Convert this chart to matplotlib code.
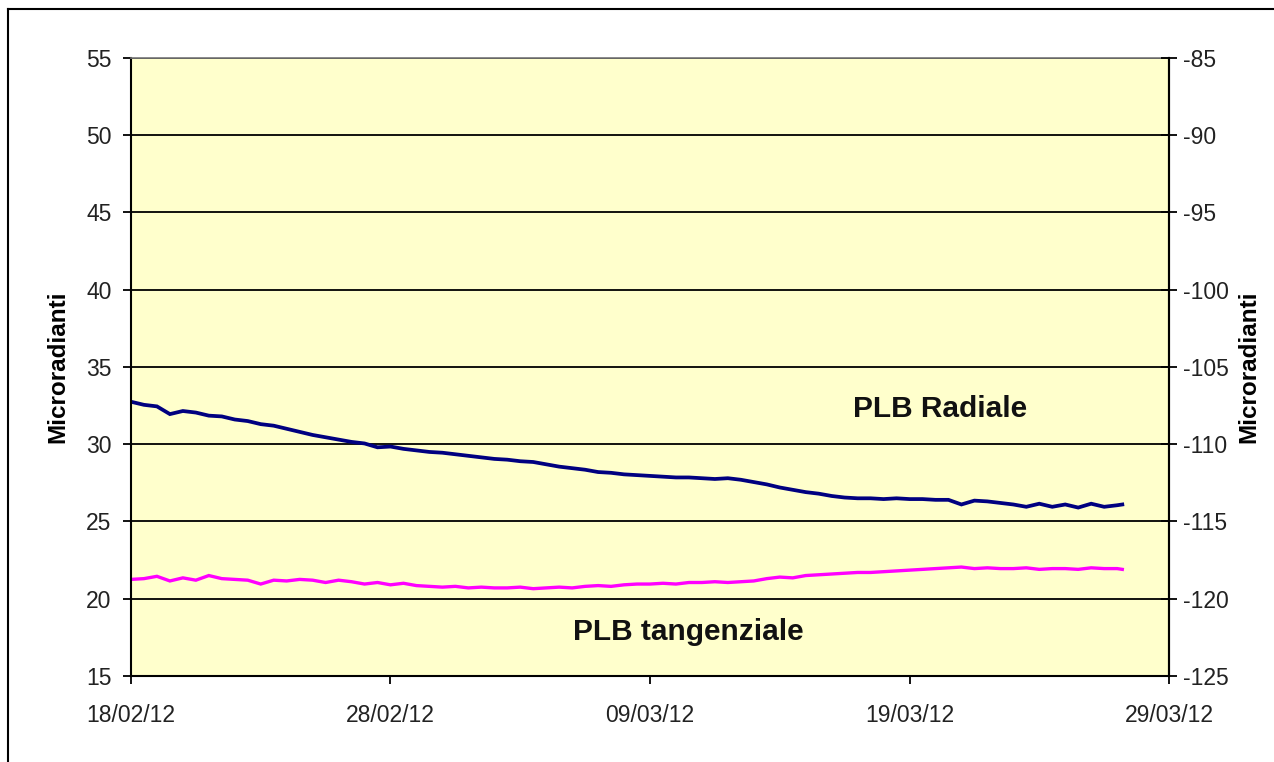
import matplotlib
matplotlib.use("Agg")
import matplotlib.pyplot as plt
import matplotlib.dates as mdates
import numpy as np
import pandas as pd
from matplotlib.lines import Line2D
from matplotlib.ticker import FixedLocator, FuncFormatter

plt.rcParams["font.family"] = ["Liberation Sans", "DejaVu Sans"]

# Data (days since 18/02/12, microradians)
start = pd.Timestamp("2012-02-18")
days = [0.0, 0.5, 1.0, 1.5, 2.0, 2.5, 3.0, 3.5, 4.0, 4.5, 5.0, 5.5, 6.0, 6.5, 7.0, 7.5,
        8.0, 8.5, 9.0, 9.5, 10.0, 10.5, 11.0, 11.5, 12.0, 12.5, 13.0, 13.5, 14.0, 14.5,
        15.0, 15.5, 16.0, 16.5, 17.0, 17.5, 18.0, 18.5, 19.0, 19.5, 20.0, 20.5, 21.0,
        21.5, 22.0, 22.5, 23.0, 23.5, 24.0, 24.5, 25.0, 25.5, 26.0, 26.5, 27.0, 27.5,
        28.0, 28.5, 29.0, 29.5, 30.0, 30.5, 31.0, 31.5, 32.0, 32.5, 33.0, 33.5, 34.0,
        34.5, 35.0, 35.5, 36.0, 36.5, 37.0, 37.5, 38.0, 38.2]

radiale = [32.75, 32.55, 32.45, 31.95, 32.15, 32.05, 31.85, 31.8, 31.6, 31.5, 31.3, 31.2,
           31.0, 30.8, 30.6, 30.45, 30.3, 30.15, 30.05, 29.8, 29.85, 29.7, 29.6, 29.5,
           29.45, 29.35, 29.25, 29.15, 29.05, 29.0, 28.9, 28.85, 28.7, 28.55, 28.45, 28.35,
           28.2, 28.15, 28.05, 28.0, 27.95, 27.9, 27.85, 27.85, 27.8, 27.75, 27.8, 27.7,
           27.55, 27.4, 27.2, 27.05, 26.9, 26.8, 26.65, 26.55, 26.5, 26.5, 26.45, 26.5,
           26.45, 26.45, 26.4, 26.4, 26.1, 26.35, 26.3, 26.2, 26.1, 25.95, 26.15, 25.95,
           26.1, 25.9, 26.15, 25.95, 26.05, 26.1]

tangenziale = [21.25, 21.3, 21.45, 21.15, 21.35, 21.2, 21.5, 21.3, 21.25, 21.2, 20.95, 21.2,
               21.15, 21.25, 21.2, 21.05, 21.2, 21.1, 20.95, 21.05, 20.9, 21.0, 20.85, 20.8,
               20.75, 20.8, 20.7, 20.75, 20.7, 20.7, 20.75, 20.65, 20.7, 20.75, 20.7, 20.8,
               20.85, 20.8, 20.9, 20.95, 20.95, 21.0, 20.95, 21.05, 21.05, 21.1, 21.05, 21.1,
               21.15, 21.3, 21.4, 21.35, 21.5, 21.55, 21.6, 21.65, 21.7, 21.7, 21.75, 21.8,
               21.85, 21.9, 21.95, 22.0, 22.05, 21.95, 22.0, 21.95, 21.95, 22.0, 21.9, 21.95,
               21.95, 21.9, 22.0, 21.95, 21.95, 21.9]

left_ticks = [15, 20, 25, 30, 35, 40, 45, 50, 55]
right_ticks = [-125, -120, -115, -110, -105, -100, -95, -90, -85]
date_ticks = ["2012-02-18", "2012-02-28", "2012-03-09", "2012-03-19", "2012-03-29"]

times = start + pd.to_timedelta(days, unit="D")

fig = plt.figure(figsize=(12.74, 7.62), dpi=100)
ax = fig.add_axes([0.1028, 0.1129, 0.8148, 0.8110])
ax.set_facecolor("#FFFFCC")

ax.plot(times, radiale, color="#000080", lw=2.7, solid_joinstyle="miter")
ax.plot(times, tangenziale, color="#FF00FF", lw=2.4, solid_joinstyle="miter")

ax.set_ylim(15, 55)
ax.set_yticks(left_ticks)
ax.set_xlim(pd.Timestamp(date_ticks[0]), pd.Timestamp(date_ticks[-1]))
ax.set_xticks([pd.Timestamp(d) for d in date_ticks])
ax.xaxis.set_major_formatter(mdates.DateFormatter("%d/%m/%y"))
ax.yaxis.grid(True, color="black", lw=1.3)
ax.set_axisbelow(True)

for s in ["left", "right", "bottom"]:
    ax.spines[s].set_color("black")
    ax.spines[s].set_linewidth(1.5)
ax.spines["top"].set_color("#777777")
ax.spines["top"].set_linewidth(1.2)

ax.tick_params(axis="y", direction="out", length=6, width=1.3, pad=8,
               labelsize=16.5, colors="black", labelcolor="#222222")
ax.tick_params(axis="x", direction="out", length=6, width=1.3, pad=14,
               labelsize=16.5, labelcolor="#222222")

ax2 = ax.twinx()
ax2.set_ylim(-125, -85)
ax2.yaxis.set_major_locator(FixedLocator(right_ticks))
ax2.yaxis.set_major_formatter(FuncFormatter(lambda v, p: "-%d" % abs(v)))
ax2.tick_params(axis="y", direction="inout", length=12, width=1.3, pad=4,
                labelsize=16.5, labelcolor="#222222")
for s in ["left", "top", "bottom"]:
    ax2.spines[s].set_visible(False)
ax2.spines["right"].set_linewidth(1.5)

ax.set_ylabel("Microradianti", fontsize=17.5, fontweight="bold", labelpad=12)
ax2.set_ylabel("Microradianti", fontsize=17.5, fontweight="bold", labelpad=6)

ax.text(pd.Timestamp("2012-03-20 04:00"), 32.3, "PLB Radiale", fontsize=21.5,
        fontweight="bold", ha="center", va="center", color="#111111")
ax.text(pd.Timestamp("2012-03-10 11:00"), 17.85, "PLB tangenziale", fontsize=21.5,
        fontweight="bold", ha="center", va="center", color="#111111")

# outer frame (top and left edges visible in the original)
fig.add_artist(Line2D([8 / 1274, 1.0], [1 - 9 / 762, 1 - 9 / 762],
                      transform=fig.transFigure, color="black", lw=1.5))
fig.add_artist(Line2D([8 / 1274, 8 / 1274], [0.0, 1 - 9 / 762],
                      transform=fig.transFigure, color="black", lw=1.5))

fig.savefig("out.png", dpi=100)
